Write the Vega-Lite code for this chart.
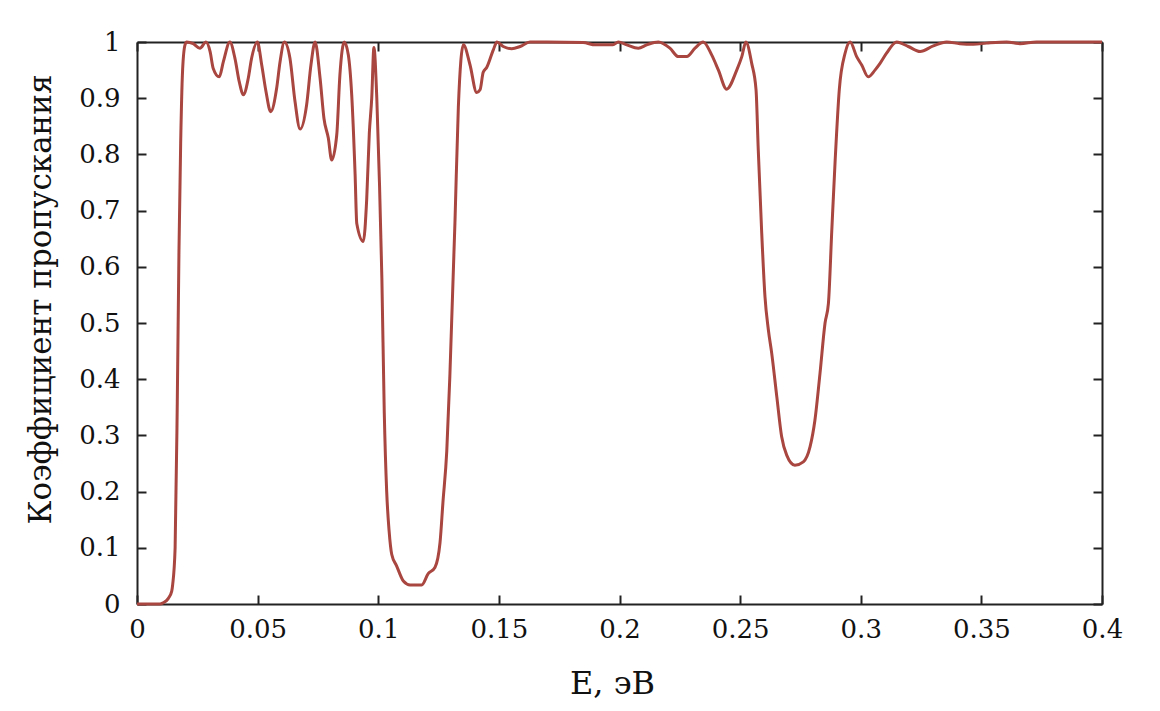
{
  "$schema": "https://vega.github.io/schema/vega-lite/v6.json",
  "autosize": "none",
  "width": 965,
  "height": 562,
  "padding": {"left": 137, "top": 42, "right": 58, "bottom": 107},
  "background": "white",
  "config": {
    "view": {"stroke": null},
    "font": "DejaVu Serif",
    "axis": {
      "grid": false,
      "domainColor": "#222222",
      "domainWidth": 2,
      "tickColor": "#222222",
      "tickWidth": 2,
      "tickSize": -9,
      "labelFont": "DejaVu Serif",
      "labelFontSize": 26,
      "labelColor": "#111111",
      "titleFont": "DejaVu Serif",
      "titleFontSize": 31,
      "titleFontWeight": "normal",
      "titleColor": "#111111"
    }
  },
  "data": {
    "values": [
      {"E": 0, "T": 0}, {"E": 0.0054, "T": 0}, {"E": 0.0095, "T": 0}, {"E": 0.0108, "T": 0.002},
      {"E": 0.013, "T": 0.01}, {"E": 0.0144, "T": 0.023}, {"E": 0.0148, "T": 0.035}, {"E": 0.0158, "T": 0.1},
      {"E": 0.0167, "T": 0.36}, {"E": 0.0174, "T": 0.63}, {"E": 0.0181, "T": 0.82}, {"E": 0.0189, "T": 0.95},
      {"E": 0.0199, "T": 0.995}, {"E": 0.0206, "T": 1.0}, {"E": 0.0233, "T": 0.997}, {"E": 0.0261, "T": 0.989},
      {"E": 0.0286, "T": 1.0}, {"E": 0.0303, "T": 0.983}, {"E": 0.0316, "T": 0.953}, {"E": 0.0341, "T": 0.938},
      {"E": 0.0358, "T": 0.965}, {"E": 0.0385, "T": 1.0}, {"E": 0.0406, "T": 0.971}, {"E": 0.0424, "T": 0.929},
      {"E": 0.0441, "T": 0.906}, {"E": 0.0461, "T": 0.935}, {"E": 0.0475, "T": 0.971}, {"E": 0.0499, "T": 1.0},
      {"E": 0.0517, "T": 0.959}, {"E": 0.0535, "T": 0.911}, {"E": 0.0554, "T": 0.876}, {"E": 0.0579, "T": 0.918},
      {"E": 0.0593, "T": 0.965}, {"E": 0.0611, "T": 1.0}, {"E": 0.0634, "T": 0.971}, {"E": 0.0655, "T": 0.894},
      {"E": 0.0676, "T": 0.845}, {"E": 0.0703, "T": 0.888}, {"E": 0.0721, "T": 0.959}, {"E": 0.0738, "T": 1.0},
      {"E": 0.0759, "T": 0.935}, {"E": 0.0775, "T": 0.864}, {"E": 0.0793, "T": 0.829}, {"E": 0.0807, "T": 0.79},
      {"E": 0.0828, "T": 0.835}, {"E": 0.0841, "T": 0.941}, {"E": 0.0859, "T": 1.0}, {"E": 0.0876, "T": 0.977},
      {"E": 0.089, "T": 0.906}, {"E": 0.0904, "T": 0.765}, {"E": 0.0911, "T": 0.677}, {"E": 0.0938, "T": 0.645},
      {"E": 0.0952, "T": 0.719}, {"E": 0.0963, "T": 0.838}, {"E": 0.0973, "T": 0.9}, {"E": 0.0982, "T": 0.99},
      {"E": 0.0994, "T": 0.9}, {"E": 0.1005, "T": 0.75}, {"E": 0.1015, "T": 0.58}, {"E": 0.1025, "T": 0.34},
      {"E": 0.1035, "T": 0.2}, {"E": 0.1045, "T": 0.13}, {"E": 0.1056, "T": 0.088}, {"E": 0.1076, "T": 0.068},
      {"E": 0.1104, "T": 0.041}, {"E": 0.1132, "T": 0.034}, {"E": 0.118, "T": 0.034}, {"E": 0.1207, "T": 0.054},
      {"E": 0.1235, "T": 0.065}, {"E": 0.1256, "T": 0.109}, {"E": 0.1268, "T": 0.18}, {"E": 0.1284, "T": 0.272},
      {"E": 0.1297, "T": 0.408}, {"E": 0.1318, "T": 0.68}, {"E": 0.1332, "T": 0.884}, {"E": 0.1353, "T": 0.995},
      {"E": 0.138, "T": 0.96}, {"E": 0.1408, "T": 0.91}, {"E": 0.1422, "T": 0.915}, {"E": 0.1435, "T": 0.946},
      {"E": 0.145, "T": 0.955}, {"E": 0.1477, "T": 0.986}, {"E": 0.1492, "T": 1.0}, {"E": 0.1518, "T": 0.992},
      {"E": 0.1553, "T": 0.988}, {"E": 0.1588, "T": 0.992}, {"E": 0.1629, "T": 1.0}, {"E": 0.17, "T": 1.0},
      {"E": 0.1849, "T": 0.999}, {"E": 0.19, "T": 0.995}, {"E": 0.1973, "T": 0.995}, {"E": 0.1995, "T": 1.0},
      {"E": 0.203, "T": 0.995}, {"E": 0.2078, "T": 0.989}, {"E": 0.2113, "T": 0.995}, {"E": 0.2161, "T": 1.0},
      {"E": 0.2209, "T": 0.989}, {"E": 0.2244, "T": 0.974}, {"E": 0.2279, "T": 0.974}, {"E": 0.2313, "T": 0.989},
      {"E": 0.2347, "T": 1.0}, {"E": 0.2382, "T": 0.977}, {"E": 0.241, "T": 0.95}, {"E": 0.2444, "T": 0.916},
      {"E": 0.2486, "T": 0.95}, {"E": 0.2507, "T": 0.974}, {"E": 0.2524, "T": 1.0}, {"E": 0.2548, "T": 0.962},
      {"E": 0.2566, "T": 0.915}, {"E": 0.2575, "T": 0.81}, {"E": 0.2589, "T": 0.665}, {"E": 0.2603, "T": 0.547},
      {"E": 0.2617, "T": 0.488}, {"E": 0.2631, "T": 0.446}, {"E": 0.2652, "T": 0.369}, {"E": 0.2672, "T": 0.298},
      {"E": 0.2693, "T": 0.265}, {"E": 0.2727, "T": 0.247}, {"E": 0.2762, "T": 0.253}, {"E": 0.279, "T": 0.28},
      {"E": 0.281, "T": 0.327}, {"E": 0.2831, "T": 0.41}, {"E": 0.2852, "T": 0.5}, {"E": 0.2866, "T": 0.535},
      {"E": 0.288, "T": 0.665}, {"E": 0.2894, "T": 0.79}, {"E": 0.2911, "T": 0.915}, {"E": 0.2935, "T": 0.98},
      {"E": 0.2956, "T": 1.0}, {"E": 0.2983, "T": 0.974}, {"E": 0.3004, "T": 0.959}, {"E": 0.3031, "T": 0.938},
      {"E": 0.3059, "T": 0.95}, {"E": 0.308, "T": 0.962}, {"E": 0.3107, "T": 0.98}, {"E": 0.3149, "T": 1.0},
      {"E": 0.3197, "T": 0.992}, {"E": 0.3246, "T": 0.983}, {"E": 0.3301, "T": 0.993}, {"E": 0.3356, "T": 1.0},
      {"E": 0.3411, "T": 0.997}, {"E": 0.3467, "T": 0.996}, {"E": 0.3522, "T": 0.998}, {"E": 0.3605, "T": 1.0},
      {"E": 0.366, "T": 0.997}, {"E": 0.3729, "T": 1.0}, {"E": 0.4, "T": 1.0}
    ]
  },
  "layer": [
    {
      "mark": {"type": "line", "color": "#a8463f", "strokeWidth": 3, "interpolate": "monotone", "clip": false},
      "encoding": {
        "x": {
          "field": "E", "type": "quantitative",
          "scale": {"domain": [0, 0.4], "nice": false, "zero": false},
          "axis": {
            "orient": "bottom",
            "values": [0, 0.05, 0.1, 0.15, 0.2, 0.25, 0.3, 0.35, 0.4],
            "format": "~g",
            "labelPadding": 21,
            "labelFlush": false,
            "labelOverlap": false,
            "title": "E, эВ",
            "titleFontSize": 32,
            "titleX": 475, "titleY": 89,
            "titleAlign": "center", "titleBaseline": "alphabetic"
          }
        },
        "y": {
          "field": "T", "type": "quantitative",
          "scale": {"domain": [0, 1], "nice": false},
          "axis": {
            "orient": "left",
            "values": [0, 0.1, 0.2, 0.3, 0.4, 0.5, 0.6, 0.7, 0.8, 0.9, 1],
            "format": "~g",
            "labelPadding": 26,
            "labelFlush": false,
            "labelOverlap": false,
            "title": "Коэффициент пропускания",
            "titleAngle": -90,
            "titleX": -87, "titleY": 257,
            "titleAlign": "center", "titleBaseline": "alphabetic"
          }
        }
      }
    },
    {
      "mark": {"type": "line", "opacity": 0},
      "encoding": {
        "x": {
          "field": "E", "type": "quantitative",
          "scale": {"domain": [0, 0.4], "nice": false, "zero": false},
          "axis": {"orient": "top", "values": [0, 0.05, 0.1, 0.15, 0.2, 0.25, 0.3, 0.35, 0.4], "labels": false, "title": null}
        },
        "y": {
          "field": "T", "type": "quantitative",
          "scale": {"domain": [0, 1], "nice": false},
          "axis": {"orient": "right", "values": [0, 0.1, 0.2, 0.3, 0.4, 0.5, 0.6, 0.7, 0.8, 0.9, 1], "labels": false, "title": null}
        }
      }
    }
  ],
  "resolve": {"axis": {"x": "independent", "y": "independent"}}
}
